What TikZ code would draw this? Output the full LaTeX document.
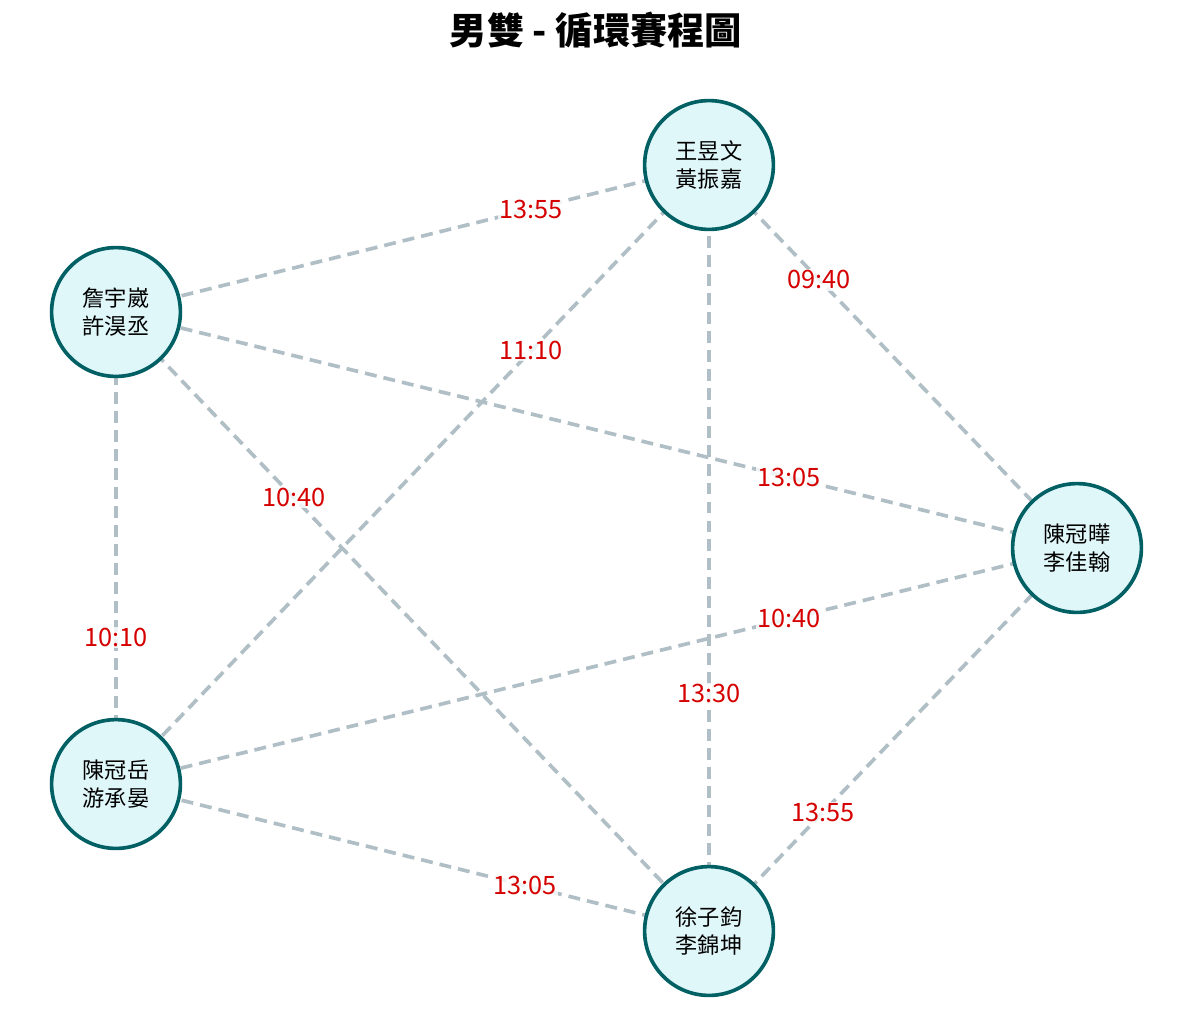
\documentclass[tikz,border=0pt]{standalone}
\usepackage{fontspec}
\setmainfont{Noto Sans CJK TC}
\usetikzlibrary{backgrounds}
\definecolor{edgegray}{HTML}{B0BEC5}
\definecolor{timered}{HTML}{D50000}
\definecolor{teamfill}{HTML}{E0F7FA}
\definecolor{teamline}{HTML}{006064}
\begin{document}
\begin{tikzpicture}[
    team/.style={circle, draw=teamline, fill=teamfill, line width=2.6pt,
      minimum size=3.22cm, inner sep=0pt, align=center,
      font=\fontsize{15.8}{19.5}\selectfont},
    match/.style={draw=edgegray, line width=2.6pt, dash pattern=on 8.5pt off 5pt},
    slot/.style={pos=0.3, fill=white, fill opacity=0.8, text opacity=1,
      text=timered, inner sep=1pt, font=\fontsize{18}{20}\selectfont}]
  \useasboundingbox (0.000,0.000) rectangle (29.800,-25.625);
  % title
  \node[font=\fontsize{26.5}{30}\selectfont\bfseries] (title) at (14.900,-0.750) {男雙 - 循環賽程圖};
  % teams
  \node[team] (t1) at (17.725,-4.125) {王昱文\\黃振嘉};
  \node[team] (t2) at (2.900,-7.800) {詹宇崴\\許淏丞};
  \node[team] (t3) at (26.925,-13.700) {陳冠曄\\李佳翰};
  \node[team] (t4) at (2.900,-19.600) {陳冠岳\\游承晏};
  \node[team] (t5) at (17.725,-23.275) {徐子鈞\\李錦坤};
  % matches
  \begin{scope}[on background layer]
    \draw[match] (t1.center) -- node[slot] {13:55} (t2.center);
    \draw[match] (t1.center) -- node[slot] {09:40} (t3.center);
    \draw[match] (t1.center) -- node[slot] {11:10} (t4.center);
    \draw[match] (t5.center) -- node[slot, pos=0.31] {13:30} (t1.center);
    \draw[match] (t3.center) -- node[slot] {13:05} (t2.center);
    \draw[match] (t2.center) -- node[slot] {10:40} (t5.center);
    \draw[match] (t4.center) -- node[slot, pos=0.31] {10:10} (t2.center);
    \draw[match] (t3.center) -- node[slot] {10:40} (t4.center);
    \draw[match] (t5.center) -- node[slot, pos=0.31] {13:55} (t3.center);
    \draw[match] (t5.center) -- node[slot, pos=0.31] {13:05} (t4.center);
  \end{scope}
\end{tikzpicture}
\end{document}
